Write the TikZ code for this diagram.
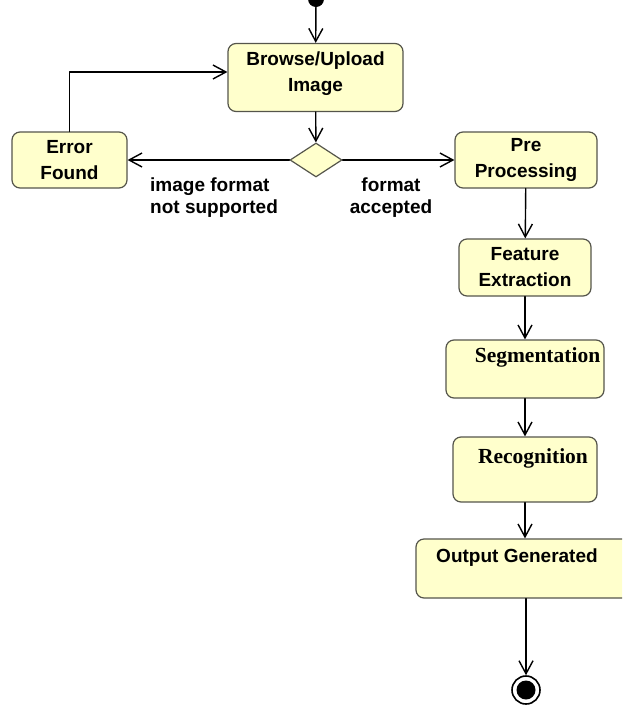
\documentclass[tikz,border=0pt]{standalone}
\usepackage{fontspec}
\setmainfont{Liberation Sans}
\newfontfamily\serifFont{Liberation Serif}
\usepackage{tikz}
\usetikzlibrary{arrows.meta, shapes.geometric}
\definecolor{boxFill}{RGB}{255,255,204}
\definecolor{boxEdge}{RGB}{85,85,75}
\def\sansText{\fontsize{19}{26}\selectfont\bfseries}
\def\serifText{\fontsize{21.5}{27}\selectfont\serifFont\bfseries}

\begin{document}
\begin{tikzpicture}[x=1pt, y=-1pt, line cap=round, line join=round,
	activity/.style={draw=boxEdge, fill=boxFill, line width=1.2pt, rounded corners=8pt, align=center, inner sep=0pt, font=\sansText},
	flow/.style={-{Straight Barb[length=13pt, width=14pt]}, line width=1.4pt},
	guard/.style={inner sep=0pt, font=\fontsize{19}{22}\selectfont\bfseries}]
	\useasboundingbox (0,0) rectangle (622,710);
	\clip (0,0) rectangle (622,710);

	% nodes
	\node[circle, fill=black, minimum size=16pt, inner sep=0pt] (start) at (316,-1) {};
	\node[activity, minimum width=175pt, minimum height=68pt] (browse) at (315.5,77.5) {Browse/Upload\\Image\\[-14pt]\mbox{}};
	\node[diamond, draw=boxEdge, fill=boxFill, line width=1.2pt, inner sep=0pt, minimum width=52pt, minimum height=34pt] (check) at (316,160) {};
	\node[activity, minimum width=115pt, minimum height=56pt] (error) at (69.5,160) {Error\\Found};
	\node[activity, minimum width=142pt, minimum height=56pt] (pre) at (526,160) {Pre\\Processing};
	\node[activity, minimum width=132pt, minimum height=57pt] (feature) at (525,267.5) {Feature\\Extraction};
	\node[activity, minimum width=158pt, minimum height=58pt, font=\serifText] (segment) at (525,369) {\hspace*{25pt}Segmentation\\\mbox{}};
	\node[activity, minimum width=144pt, minimum height=65pt, font=\serifText] (recog) at (525,469.5) {\hspace*{16pt}Recognition\\\mbox{}};
	\node[activity, minimum width=216pt, minimum height=59pt] (output) at (524,568.5) {Output Generated\hspace*{14pt}\\\mbox{}};
	\node[circle, draw, line width=1.6pt, minimum size=28pt, inner sep=0pt] (finish) at (526,690) {};
	\node[circle, fill=black, minimum size=19pt, inner sep=0pt] (finishDot) at (finish) {};

	% guards
	\node[guard, anchor=base west, align=left] (notSupported) at (150,213) {image format\\not supported};
	\node[guard, anchor=base, align=center] (accepted) at (391,213) {format\\accepted};

	% connectors
	\draw[flow] (start) -- (browse);
	\draw[flow] (browse) -- (check);
	\draw[flow] (check) -- (error);
	\draw[flow] (check) -- (pre);
	\draw[flow] (error.north) |- ([yshift=5.5pt]browse.west);
	\draw[flow] (pre) -- (feature);
	\draw[flow] (feature) -- (segment);
	\draw[flow] (segment) -- (recog);
	\draw[flow] (recog) -- (recog |- output.north);
	\draw[flow] (output.south -| finish) -- (finish);
\end{tikzpicture}
\end{document}
